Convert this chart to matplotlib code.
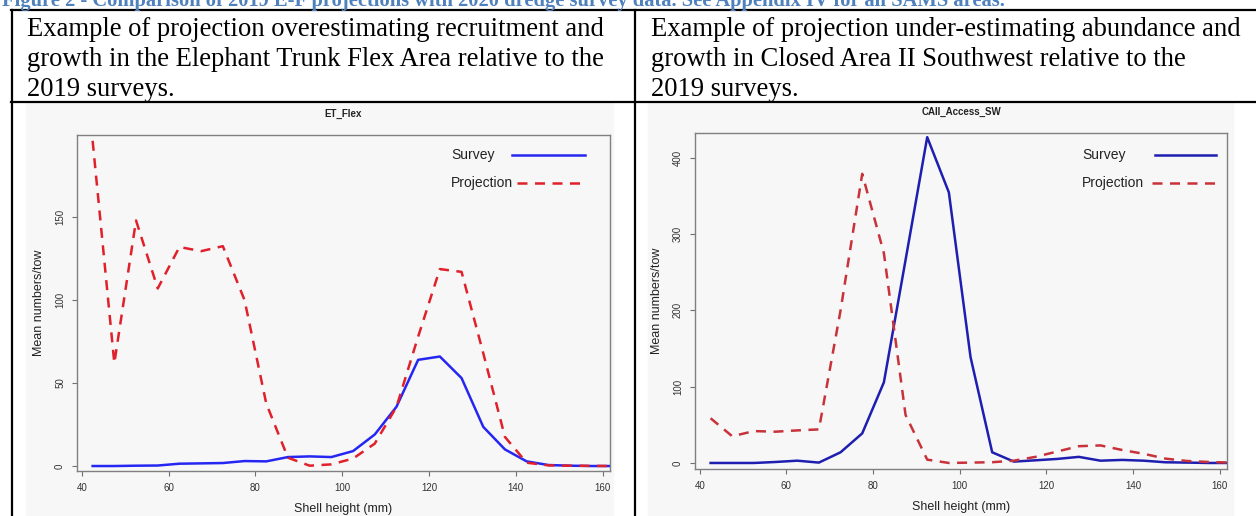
import matplotlib
matplotlib.use("Agg")
import matplotlib.pyplot as plt
from matplotlib.lines import Line2D
from matplotlib.patches import Rectangle

plt.rcParams['font.family'] = ['Liberation Sans', 'DejaVu Sans']

# shell height bin centres (mm)
shell_height = [42.5, 47.5, 52.5, 57.5, 62.5, 67.5, 72.5, 77.5, 82.5, 87.5,
                92.5, 97.5, 102.5, 107.5, 112.5, 117.5, 122.5, 127.5, 132.5,
                137.5, 142.5, 147.5, 152.5, 157.5, 162.5]

# ET_Flex
et_survey = [0.0, 0.0, 0.2, 0.3, 1.4, 1.6, 1.8, 3.0, 2.8, 5.4, 5.8, 5.4, 9.0,
             19.0, 35.7, 64.0, 66.0, 53.0, 23.6, 10.0, 2.8, 0.6, 0.2, 0.0, 0.0]
et_projection = [196.0, 62.0, 148.0, 107.0, 132.0, 129.5, 132.5, 100.0, 37.7,
                 5.0, 0.2, 1.0, 4.5, 13.5, 35.6, 78.0, 118.7, 117.0, 68.0,
                 17.5, 2.0, 0.4, 0.2, 0.1, 0.0]

# CAII_Access_SW
ca_survey = [0.0, 0.0, 0.0, 1.3, 3.0, 0.5, 14.0, 38.8, 105.7, 266.0, 427.0,
             354.6, 138.8, 14.0, 1.8, 3.5, 5.3, 8.0, 3.0, 4.0, 3.0, 0.9, 0.5,
             0.0, 0.0]
ca_projection = [58.6, 35.0, 41.8, 41.0, 42.7, 44.0, 200.0, 379.0, 275.0, 63.0,
                 4.4, 0.0, 0.5, 1.0, 3.0, 8.0, 15.0, 22.0, 23.0, 17.0, 12.0,
                 5.7, 2.6, 1.3, 0.5]

caption = ("Figure 2 - Comparison of 2019 E-F projections with 2020 dredge "
           "survey data. See Appendix IV for all SAMS areas.")
left_text = ["Example of projection overestimating recruitment and",
             "growth in the Elephant Trunk Flex Area relative to the",
             "2019 surveys."]
right_text = ["Example of projection under-estimating abundance and",
              "growth in Closed Area II Southwest relative to the",
              "2019 surveys."]

W, H = 1256, 516
DASH = (0, (4, 3))


def fx(px):
    return px / W


def fy(py):
    return 1 - py / H


fig = plt.figure(figsize=(W / 100, H / 100), dpi=100, facecolor='white')

# caption, mostly above the page edge
fig.text(fx(2), fy(6), caption, family='Liberation Serif', weight='bold',
         fontsize=14.8, color='#4f81bd', va='baseline', ha='left')

# table rules
rule = dict(color='black', lw=1.6, transform=fig.transFigure)
fig.add_artist(Line2D([fx(11), 1], [fy(10), fy(10)], **rule))
fig.add_artist(Line2D([fx(11), 1], [fy(102), fy(102)], **rule))
fig.add_artist(Line2D([fx(12), fx(12)], [fy(10), 0], **rule))
fig.add_artist(Line2D([fx(635), fx(635)], [fy(10), 0], **rule))

# cell text
for i, (a, b) in enumerate(zip(left_text, right_text)):
    y = fy(36 + 30 * i)
    fig.text(fx(27), y, a, family='Liberation Serif', fontsize=19.2,
             va='baseline', ha='left')
    fig.text(fx(651), y, b, family='Liberation Serif', fontsize=19.2,
             va='baseline', ha='left')

bg = '#f7f7f7'
fig.patches.append(Rectangle((fx(26), 0), fx(613) - fx(26), fy(103),
                             transform=fig.transFigure, color=bg, zorder=-1))
fig.patches.append(Rectangle((fx(648), 0), fx(1233) - fx(648), fy(103),
                             transform=fig.transFigure, color=bg, zorder=-1))


def panel(box, title, survey, projection, ylim, yticks, c_survey, c_proj,
          key):
    l, t, r, b = box
    ax = fig.add_axes([fx(l), fy(b), (r - l) / W, (b - t) / H])
    ax.set_facecolor(bg)
    ax.plot(shell_height, survey, color=c_survey, lw=1.8)
    ax.plot(shell_height, projection, color=c_proj, lw=1.8, linestyle=DASH)
    ax.set_xlim(38.9, 161.7)
    ax.set_ylim(*ylim)
    ax.set_xticks([40, 60, 80, 100, 120, 140, 160])
    ax.set_yticks(yticks)
    for s in ax.spines.values():
        s.set_color('#808080')
        s.set_linewidth(1.0)
    ax.tick_params(direction='out', length=3.6, width=0.8, colors='#707070',
                   labelcolor='#333333', labelsize=7, pad=5)
    for lab in ax.get_yticklabels():
        lab.set_rotation(90)
        lab.set_va('center')
    ax.set_title(title, fontsize=7, weight='bold', color='#222222', pad=13)
    ax.set_xlabel('Shell height (mm)', fontsize=9, color='#222222',
                  labelpad=7)
    ax.set_ylabel('Mean numbers/tow', fontsize=9, color='#222222',
                  labelpad=7)

    # key: label on the left, line sample on the right (pixel positions)
    def ax_x(px):
        return (px - l) / (r - l)

    def ax_y(py):
        return 1 - (py - t) / (b - t)

    text_x, rows = key
    styles = [dict(color=c_survey, lw=1.8),
              dict(color=c_proj, lw=1.8, linestyle=DASH)]
    for (label, py, x0, x1), st in zip(rows, styles):
        ax.text(ax_x(text_x), ax_y(py), label, transform=ax.transAxes,
                fontsize=10, color='#222222', ha='left', va='center')
        ax.add_line(Line2D([ax_x(x0), ax_x(x1)], [ax_y(py), ax_y(py)],
                           transform=ax.transAxes, **st))
    return ax


panel((77, 135, 610, 471), 'ET_Flex', et_survey, et_projection,
      (-3, 199.5), [0, 50, 100, 150], '#2626f2', '#e0202a',
      (451, [('Survey', 155, 512, 585), ('Projection', 183, 517, 585)]))
panel((695, 133, 1227, 469), 'CAII_Access_SW', ca_survey, ca_projection,
      (-7.9, 432.5), [0, 100, 200, 300, 400], '#1e1eb0', '#c8323a',
      (1082, [('Survey', 155, 1155, 1216), ('Projection', 183, 1152, 1216)]))

fig.savefig('out.png', dpi=100, facecolor='white')
